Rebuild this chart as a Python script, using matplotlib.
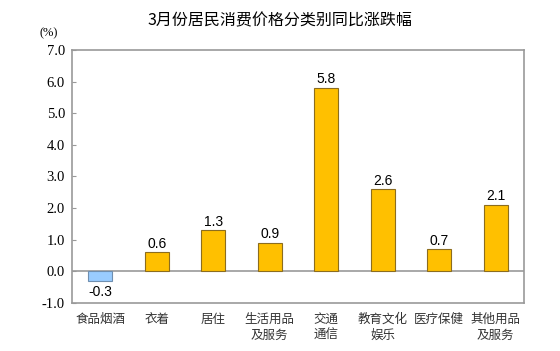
import matplotlib
matplotlib.use("Agg")
import matplotlib.pyplot as plt
import numpy as np

plt.rcParams['font.family'] = ['Noto Sans CJK SC', 'DejaVu Sans']

categories = ['食品烟酒', '衣着', '居住', '生活用品\n及服务', '交通\n通信',
              '教育文化\n娱乐', '医疗保健', '其他用品\n及服务']
values = [-0.3, 0.6, 1.3, 0.9, 5.8, 2.6, 0.7, 2.1]
yticks = [-1.0, 0.0, 1.0, 2.0, 3.0, 4.0, 5.0, 6.0, 7.0]

fig = plt.figure(figsize=(5.6, 3.51), dpi=100)
ax = fig.add_axes([0.1286, 0.1368, 0.807, 0.7208])

x = np.arange(len(categories))
colors = ['#99CCFF' if v < 0 else '#FFC000' for v in values]
edges = ['#6F8FB0' if v < 0 else '#8C6D1F' for v in values]
ax.bar(x, values, width=0.42, color=colors, edgecolor=edges, linewidth=0.8, zorder=3)

for xi, v in zip(x, values):
    if v < 0:
        ax.text(xi, v - 0.12, f'{v:.1f}', ha='center', va='top', fontsize=10,
                family='Liberation Sans')
    else:
        ax.text(xi, v + 0.05, f'{v:.1f}', ha='center', va='bottom', fontsize=10,
                family='Liberation Sans')

ax.axhline(0, color='#999999', linewidth=1.2, zorder=2)
ax.set_xlim(-0.5, len(categories) - 0.5)
ax.set_ylim(-1.0, 7.0)
ax.set_yticks(yticks)
ax.set_yticklabels([f'{t:.1f}' for t in yticks], family='Liberation Serif', fontsize=10.5)
ax.set_xticks(x)
ax.set_xticklabels(categories, fontsize=9, color='#333333', linespacing=1.3)
ax.tick_params(axis='x', length=0, pad=7)
ax.tick_params(axis='y', direction='in', length=3, color='#999999', pad=5)
for s in ax.spines.values():
    s.set_color('#999999')
    s.set_linewidth(1.2)

fig.text(0.087, 0.905, '(%)', family='Liberation Serif', fontsize=9, ha='center', va='center')
fig.text(0.499, 0.940, '3月份居民消费价格分类别同比涨跌幅', ha='center', va='center',
         fontsize=11.5)

fig.savefig('out.png', dpi=100)
